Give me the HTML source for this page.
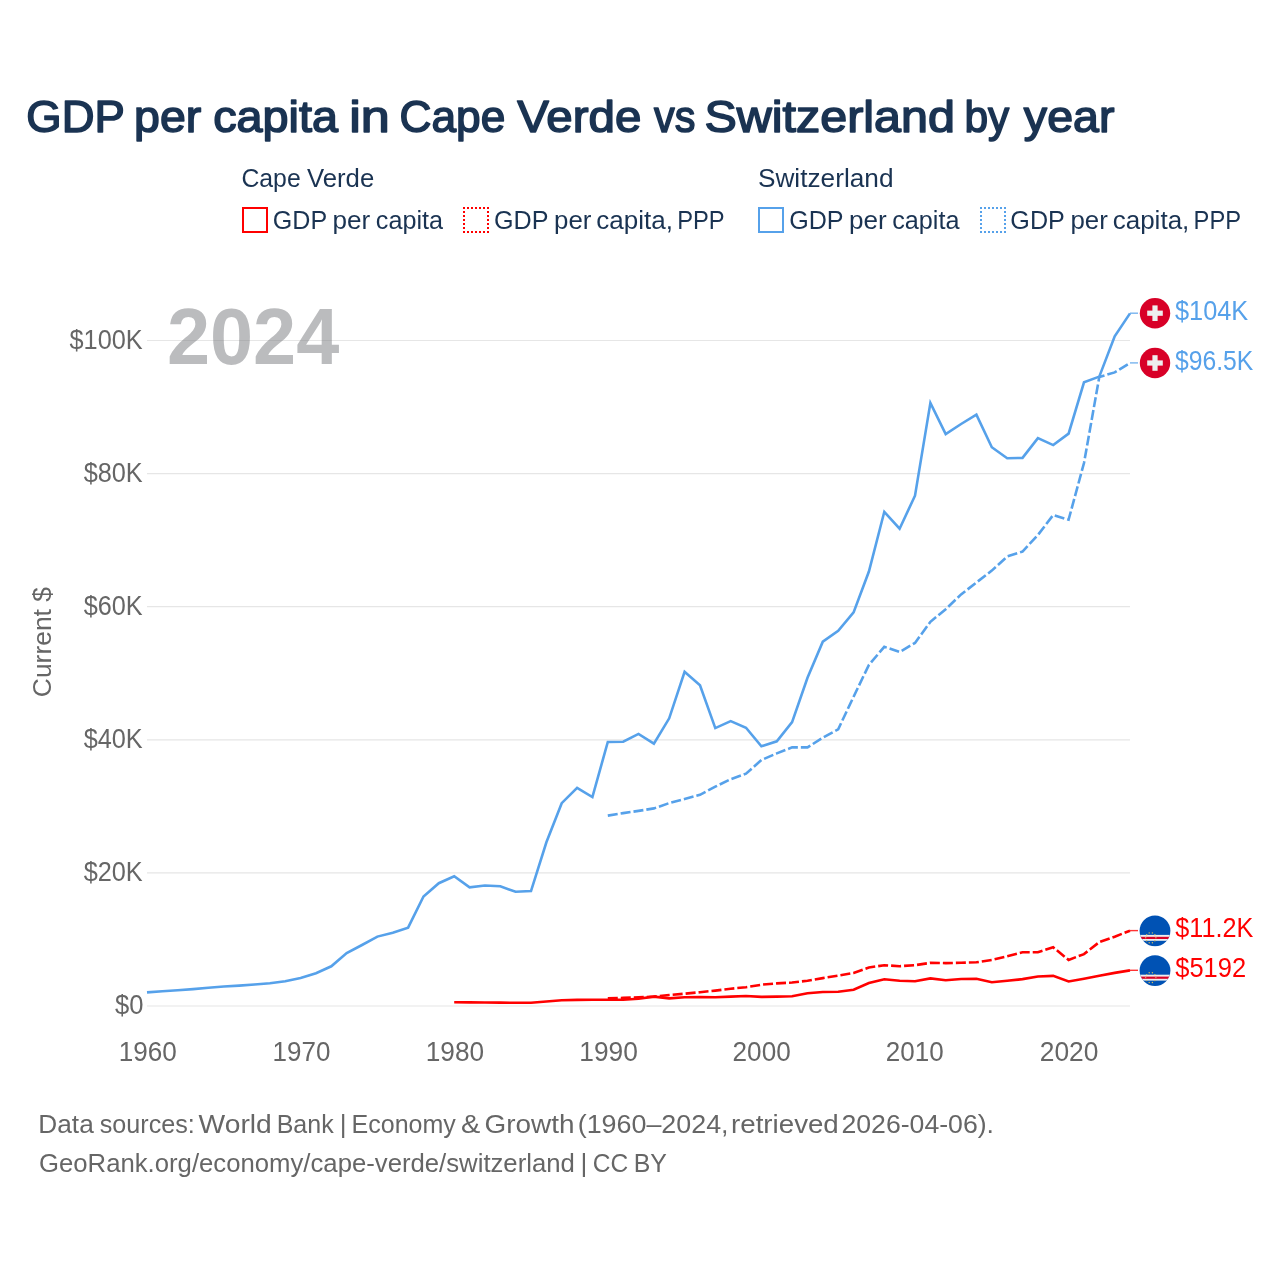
<!DOCTYPE html>
<html lang="en"><head><meta charset="utf-8"><title>GDP per capita in Cape Verde vs Switzerland by year</title>
<style>html,body{margin:0;padding:0;background:#fff;width:1280px;height:1280px;overflow:hidden}svg{display:block}</style>
</head><body>
<svg width="1280" height="1280" viewBox="0 0 1280 1280" font-family='"Liberation Sans", Arial, sans-serif'>
<rect width="1280" height="1280" fill="#ffffff"/>
<rect x="243" y="208" width="24" height="24" fill="none" stroke="#ff0000" stroke-width="2"/>
<path d="M463 207h2v2h-2zM463 231h2v2h-2zM467 207h2v2h-2zM467 231h2v2h-2zM471 207h2v2h-2zM471 231h2v2h-2zM475 207h2v2h-2zM475 231h2v2h-2zM479 207h2v2h-2zM479 231h2v2h-2zM483 207h2v2h-2zM483 231h2v2h-2zM487 207h2v2h-2zM487 231h2v2h-2zM463 211h2v2h-2zM487 211h2v2h-2zM463 215h2v2h-2zM487 215h2v2h-2zM463 219h2v2h-2zM487 219h2v2h-2zM463 223h2v2h-2zM487 223h2v2h-2zM463 227h2v2h-2zM487 227h2v2h-2z" fill="#ff0000"/>
<rect x="759" y="208" width="24" height="24" fill="none" stroke="#56a1ea" stroke-width="2"/>
<path d="M980 207h2v2h-2zM980 231h2v2h-2zM984 207h2v2h-2zM984 231h2v2h-2zM988 207h2v2h-2zM988 231h2v2h-2zM992 207h2v2h-2zM992 231h2v2h-2zM996 207h2v2h-2zM996 231h2v2h-2zM1000 207h2v2h-2zM1000 231h2v2h-2zM1004 207h2v2h-2zM1004 231h2v2h-2zM980 211h2v2h-2zM1004 211h2v2h-2zM980 215h2v2h-2zM1004 215h2v2h-2zM980 219h2v2h-2zM1004 219h2v2h-2zM980 223h2v2h-2zM1004 223h2v2h-2zM980 227h2v2h-2zM1004 227h2v2h-2z" fill="#56a1ea"/>
<line x1="147" y1="1006.0" x2="1130" y2="1006.0" stroke="#e6e6e6" stroke-width="1.2"/>
<line x1="147" y1="872.9" x2="1130" y2="872.9" stroke="#e6e6e6" stroke-width="1.2"/>
<line x1="147" y1="739.8" x2="1130" y2="739.8" stroke="#e6e6e6" stroke-width="1.2"/>
<line x1="147" y1="606.7" x2="1130" y2="606.7" stroke="#e6e6e6" stroke-width="1.2"/>
<line x1="147" y1="473.6" x2="1130" y2="473.6" stroke="#e6e6e6" stroke-width="1.2"/>
<line x1="147" y1="340.5" x2="1130" y2="340.5" stroke="#e6e6e6" stroke-width="1.2"/>
<g opacity="0.5"><text x="166.91" y="364.0" font-size="80.5" font-weight="bold" fill="#797b7f" textLength="172.40" lengthAdjust="spacingAndGlyphs">2024</text></g>
<text transform="translate(50.8,642.1) rotate(-90)" font-size="26.3" fill="#666666" text-anchor="middle" textLength="110.1" lengthAdjust="spacingAndGlyphs">Current $</text>
<polyline points="147.0,992.4 162.4,991.3 177.7,990.2 193.1,989.1 208.4,987.8 223.8,986.5 239.2,985.6 254.5,984.5 269.9,983.2 285.2,981.2 300.6,978.0 316.0,973.2 331.3,966.3 346.7,953.0 362.0,945.0 377.4,936.6 392.8,932.8 408.1,927.7 423.5,896.5 438.8,883.2 454.2,876.3 469.6,887.3 484.9,885.5 500.3,886.3 515.6,891.8 531.0,891.1 546.4,842.3 561.7,803.2 577.1,787.9 592.4,797.0 607.8,742.0 623.2,741.7 638.5,733.9 653.9,743.7 669.2,718.3 684.6,671.8 700.0,685.2 715.3,728.1 730.7,721.1 746.0,727.7 761.4,746.3 776.8,741.3 792.1,722.1 807.5,677.8 822.8,641.7 838.2,630.8 853.6,612.4 868.9,571.5 884.3,511.8 899.6,528.7 915.0,495.7 930.4,402.9 945.7,434.0 961.1,424.0 976.4,414.7 991.8,447.2 1007.2,458.2 1022.5,457.9 1037.9,438.1 1053.2,445.1 1068.6,433.6 1084.0,382.3 1099.3,376.6 1114.7,336.3 1130.0,313.4" fill="none" stroke="#56a1ea" stroke-width="2.6" stroke-linejoin="miter"/>
<polyline points="607.8,815.6 623.2,813.1 638.5,810.9 653.9,808.4 669.2,803.1 684.6,799.1 700.0,794.8 715.3,786.7 730.7,779.2 746.0,773.7 761.4,760.0 776.8,753.4 792.1,747.4 807.5,747.4 822.8,737.6 838.2,729.3 853.6,696.7 868.9,664.9 884.3,646.8 899.6,652.0 915.0,642.9 930.4,621.8 945.7,609.2 961.1,594.4 976.4,582.5 991.8,570.6 1007.2,556.5 1022.5,551.6 1037.9,535.0 1053.2,515.0 1068.6,519.7 1084.0,463.0 1099.3,377.0 1114.7,372.4 1130.0,363.0" fill="none" stroke="#56a1ea" stroke-width="2.6" stroke-dasharray="10,3" stroke-linejoin="miter"/>
<polyline points="454.2,1002.3 469.6,1002.4 484.9,1002.5 500.3,1002.6 515.6,1002.8 531.0,1002.8 546.4,1001.5 561.7,1000.2 577.1,999.9 592.4,999.8 607.8,999.7 623.2,999.7 638.5,998.8 653.9,996.6 669.2,998.4 684.6,997.2 700.0,997.0 715.3,997.2 730.7,996.6 746.0,996.0 761.4,996.9 776.8,996.6 792.1,996.2 807.5,993.3 822.8,992.0 838.2,991.7 853.6,989.8 868.9,983.1 884.3,979.2 899.6,980.8 915.0,981.2 930.4,978.4 945.7,980.3 961.1,979.0 976.4,978.8 991.8,982.3 1007.2,980.8 1022.5,979.1 1037.9,976.5 1053.2,975.9 1068.6,981.5 1084.0,978.7 1099.3,975.8 1114.7,972.9 1130.0,970.4" fill="none" stroke="#ff0000" stroke-width="2.6" stroke-linejoin="miter"/>
<polyline points="607.8,998.4 623.2,997.9 638.5,997.3 653.9,996.6 669.2,995.0 684.6,993.7 700.0,992.2 715.3,990.6 730.7,988.7 746.0,987.2 761.4,984.7 776.8,983.4 792.1,982.5 807.5,980.8 822.8,978.1 838.2,975.6 853.6,973.0 868.9,967.5 884.3,965.2 899.6,966.2 915.0,965.2 930.4,962.8 945.7,963.1 961.1,962.8 976.4,962.3 991.8,959.9 1007.2,956.2 1022.5,952.2 1037.9,952.2 1053.2,947.3 1068.6,959.9 1084.0,954.1 1099.3,942.1 1114.7,936.7 1130.0,930.7" fill="none" stroke="#ff0000" stroke-width="2.6" stroke-dasharray="10,3" stroke-linejoin="miter"/>
<line x1="1130" y1="313.2" x2="1138" y2="313.2" stroke="#56a1ea" stroke-width="1.4" stroke-opacity="0.8"/>
<line x1="1130" y1="362.9" x2="1138" y2="362.9" stroke="#56a1ea" stroke-width="1.4" stroke-opacity="0.8"/>
<line x1="1130" y1="930.6" x2="1138" y2="930.6" stroke="#ff0000" stroke-width="1.4" stroke-opacity="0.8"/>
<line x1="1130" y1="970.3" x2="1138" y2="970.3" stroke="#ff0000" stroke-width="1.4" stroke-opacity="0.8"/>
<circle cx="1155" cy="313.2" r="15.2" fill="#d80027"/><rect x="1147.2" y="310.6" width="15.6" height="5.2" fill="#eeeeee"/><rect x="1152.4" y="305.4" width="5.2" height="15.6" fill="#eeeeee"/>
<circle cx="1155" cy="363.0" r="15.2" fill="#d80027"/><rect x="1147.2" y="360.4" width="15.6" height="5.2" fill="#eeeeee"/><rect x="1152.4" y="355.2" width="5.2" height="15.6" fill="#eeeeee"/>
<clipPath id="cp930"><circle cx="1155" cy="930.8" r="15.4"/></clipPath><g clip-path="url(#cp930)"><rect x="1139" y="914.8" width="32" height="32" fill="#0052b4"/><rect x="1139" y="934.9" width="32" height="5.9" fill="#eeeeee"/><rect x="1139" y="936.8" width="32" height="2.2" fill="#d80027"/></g><circle cx="1155.9" cy="937.8" r="0.7" fill="#d4b85a"/><circle cx="1154.9" cy="940.8" r="0.7" fill="#d4b85a"/><circle cx="1152.4" cy="942.7" r="0.7" fill="#d4b85a"/><circle cx="1149.2" cy="942.7" r="0.7" fill="#d4b85a"/><circle cx="1146.7" cy="940.8" r="0.7" fill="#d4b85a"/><circle cx="1145.7" cy="937.8" r="0.7" fill="#d4b85a"/><circle cx="1146.7" cy="934.8" r="0.7" fill="#d4b85a"/><circle cx="1149.2" cy="932.9" r="0.7" fill="#d4b85a"/><circle cx="1152.4" cy="932.9" r="0.7" fill="#d4b85a"/><circle cx="1154.9" cy="934.8" r="0.7" fill="#d4b85a"/>
<clipPath id="cp970"><circle cx="1155" cy="970.6" r="15.4"/></clipPath><g clip-path="url(#cp970)"><rect x="1139" y="954.6" width="32" height="32" fill="#0052b4"/><rect x="1139" y="974.7" width="32" height="5.9" fill="#eeeeee"/><rect x="1139" y="976.6" width="32" height="2.2" fill="#d80027"/></g><circle cx="1155.9" cy="977.6" r="0.7" fill="#d4b85a"/><circle cx="1154.9" cy="980.6" r="0.7" fill="#d4b85a"/><circle cx="1152.4" cy="982.5" r="0.7" fill="#d4b85a"/><circle cx="1149.2" cy="982.5" r="0.7" fill="#d4b85a"/><circle cx="1146.7" cy="980.6" r="0.7" fill="#d4b85a"/><circle cx="1145.7" cy="977.6" r="0.7" fill="#d4b85a"/><circle cx="1146.7" cy="974.6" r="0.7" fill="#d4b85a"/><circle cx="1149.2" cy="972.7" r="0.7" fill="#d4b85a"/><circle cx="1152.4" cy="972.7" r="0.7" fill="#d4b85a"/><circle cx="1154.9" cy="974.6" r="0.7" fill="#d4b85a"/>
<text x="26.32" y="132.1" font-size="45.2" font-weight="normal" fill="#1a3352" textLength="98.38" lengthAdjust="spacingAndGlyphs" stroke="#1a3352" stroke-width="1.6" stroke-linejoin="round">GDP</text>
<text x="134.10" y="132.1" font-size="45.2" font-weight="normal" fill="#1a3352" textLength="67.17" lengthAdjust="spacingAndGlyphs" stroke="#1a3352" stroke-width="1.6" stroke-linejoin="round">per</text>
<text x="213.21" y="132.1" font-size="45.2" font-weight="normal" fill="#1a3352" textLength="124.79" lengthAdjust="spacingAndGlyphs" stroke="#1a3352" stroke-width="1.6" stroke-linejoin="round">capita</text>
<text x="349.21" y="132.1" font-size="45.2" font-weight="normal" fill="#1a3352" textLength="40.57" lengthAdjust="spacingAndGlyphs" stroke="#1a3352" stroke-width="1.6" stroke-linejoin="round">in</text>
<text x="399.45" y="132.1" font-size="45.2" font-weight="normal" fill="#1a3352" textLength="105.82" lengthAdjust="spacingAndGlyphs" stroke="#1a3352" stroke-width="1.6" stroke-linejoin="round">Cape</text>
<text x="517.19" y="132.1" font-size="45.2" font-weight="normal" fill="#1a3352" textLength="124.12" lengthAdjust="spacingAndGlyphs" stroke="#1a3352" stroke-width="1.6" stroke-linejoin="round">Verde</text>
<text x="654.06" y="132.1" font-size="45.2" font-weight="normal" fill="#1a3352" textLength="41.34" lengthAdjust="spacingAndGlyphs" stroke="#1a3352" stroke-width="1.6" stroke-linejoin="round">vs</text>
<text x="704.50" y="132.1" font-size="45.2" font-weight="normal" fill="#1a3352" textLength="250.42" lengthAdjust="spacingAndGlyphs" stroke="#1a3352" stroke-width="1.6" stroke-linejoin="round">Switzerland</text>
<text x="964.46" y="132.1" font-size="45.2" font-weight="normal" fill="#1a3352" textLength="44.82" lengthAdjust="spacingAndGlyphs" stroke="#1a3352" stroke-width="1.6" stroke-linejoin="round">by</text>
<text x="1023.89" y="132.1" font-size="45.2" font-weight="normal" fill="#1a3352" textLength="90.59" lengthAdjust="spacingAndGlyphs" stroke="#1a3352" stroke-width="1.6" stroke-linejoin="round">year</text>
<text x="241.44" y="186.5" font-size="26.3" font-weight="normal" fill="#1a3352" textLength="59.26" lengthAdjust="spacingAndGlyphs">Cape</text>
<text x="306.99" y="186.5" font-size="26.3" font-weight="normal" fill="#1a3352" textLength="67.26" lengthAdjust="spacingAndGlyphs">Verde</text>
<text x="757.91" y="186.5" font-size="26.3" font-weight="normal" fill="#1a3352" textLength="135.58" lengthAdjust="spacingAndGlyphs">Switzerland</text>
<text x="272.84" y="228.8" font-size="26.3" font-weight="normal" fill="#1a3352" textLength="54.39" lengthAdjust="spacingAndGlyphs">GDP</text>
<text x="332.52" y="228.8" font-size="26.3" font-weight="normal" fill="#1a3352" textLength="37.71" lengthAdjust="spacingAndGlyphs">per</text>
<text x="375.83" y="228.8" font-size="26.3" font-weight="normal" fill="#1a3352" textLength="67.27" lengthAdjust="spacingAndGlyphs">capita</text>
<text x="493.94" y="228.8" font-size="26.3" font-weight="normal" fill="#1a3352" textLength="54.49" lengthAdjust="spacingAndGlyphs">GDP</text>
<text x="554.03" y="228.8" font-size="26.3" font-weight="normal" fill="#1a3352" textLength="37.40" lengthAdjust="spacingAndGlyphs">per</text>
<text x="596.29" y="228.8" font-size="26.3" font-weight="normal" fill="#1a3352" textLength="76.64" lengthAdjust="spacingAndGlyphs">capita,</text>
<text x="677.15" y="228.8" font-size="26.3" font-weight="normal" fill="#1a3352" textLength="47.50" lengthAdjust="spacingAndGlyphs">PPP</text>
<text x="789.24" y="228.8" font-size="26.3" font-weight="normal" fill="#1a3352" textLength="54.39" lengthAdjust="spacingAndGlyphs">GDP</text>
<text x="848.92" y="228.8" font-size="26.3" font-weight="normal" fill="#1a3352" textLength="37.71" lengthAdjust="spacingAndGlyphs">per</text>
<text x="892.23" y="228.8" font-size="26.3" font-weight="normal" fill="#1a3352" textLength="67.27" lengthAdjust="spacingAndGlyphs">capita</text>
<text x="1010.34" y="228.8" font-size="26.3" font-weight="normal" fill="#1a3352" textLength="54.49" lengthAdjust="spacingAndGlyphs">GDP</text>
<text x="1070.43" y="228.8" font-size="26.3" font-weight="normal" fill="#1a3352" textLength="37.40" lengthAdjust="spacingAndGlyphs">per</text>
<text x="1112.69" y="228.8" font-size="26.3" font-weight="normal" fill="#1a3352" textLength="76.64" lengthAdjust="spacingAndGlyphs">capita,</text>
<text x="1193.55" y="228.8" font-size="26.3" font-weight="normal" fill="#1a3352" textLength="47.50" lengthAdjust="spacingAndGlyphs">PPP</text>
<text x="38.35" y="1133.0" font-size="26.3" font-weight="normal" fill="#666666" textLength="55.40" lengthAdjust="spacingAndGlyphs">Data</text>
<text x="99.80" y="1133.0" font-size="26.3" font-weight="normal" fill="#666666" textLength="94.99" lengthAdjust="spacingAndGlyphs">sources:</text>
<text x="198.63" y="1133.0" font-size="26.3" font-weight="normal" fill="#666666" textLength="73.19" lengthAdjust="spacingAndGlyphs">World</text>
<text x="276.70" y="1133.0" font-size="26.3" font-weight="normal" fill="#666666" textLength="57.02" lengthAdjust="spacingAndGlyphs">Bank</text>
<text x="343.10" y="1133.0" font-size="26.3" font-weight="normal" fill="#666666" text-anchor="middle">|</text>
<text x="351.55" y="1133.0" font-size="26.3" font-weight="normal" fill="#666666" textLength="104.30" lengthAdjust="spacingAndGlyphs">Economy</text>
<text x="460.98" y="1133.0" font-size="26.3" font-weight="normal" fill="#666666" textLength="19.27" lengthAdjust="spacingAndGlyphs">&amp;</text>
<text x="484.50" y="1133.0" font-size="26.3" font-weight="normal" fill="#666666" textLength="90.02" lengthAdjust="spacingAndGlyphs">Growth</text>
<text x="577.73" y="1133.0" font-size="26.3" font-weight="normal" fill="#666666" textLength="150.88" lengthAdjust="spacingAndGlyphs">(1960–2024,</text>
<text x="731.06" y="1133.0" font-size="26.3" font-weight="normal" fill="#666666" textLength="107.72" lengthAdjust="spacingAndGlyphs">retrieved</text>
<text x="841.46" y="1133.0" font-size="26.3" font-weight="normal" fill="#666666" textLength="152.57" lengthAdjust="spacingAndGlyphs">2026-04-06).</text>
<text x="39.01" y="1171.5" font-size="26.3" font-weight="normal" fill="#666666" textLength="535.85" lengthAdjust="spacingAndGlyphs">GeoRank.org/economy/cape-verde/switzerland</text>
<text x="583.95" y="1171.5" font-size="26.3" font-weight="normal" fill="#666666" text-anchor="middle">|</text>
<text x="592.65" y="1171.5" font-size="26.3" font-weight="normal" fill="#666666" textLength="35.48" lengthAdjust="spacingAndGlyphs">CC</text>
<text x="633.66" y="1171.5" font-size="26.3" font-weight="normal" fill="#666666" textLength="33.19" lengthAdjust="spacingAndGlyphs">BY</text>
<text x="1175.03" y="319.8" font-size="27" font-weight="normal" fill="#56a1ea" textLength="73.26" lengthAdjust="spacingAndGlyphs">$104K</text>
<text x="1175.03" y="369.8" font-size="27" font-weight="normal" fill="#56a1ea" textLength="78.34" lengthAdjust="spacingAndGlyphs">$96.5K</text>
<text x="1175.33" y="937.0" font-size="27" font-weight="normal" fill="#ff0000" textLength="78.05" lengthAdjust="spacingAndGlyphs">$11.2K</text>
<text x="1175.23" y="976.9" font-size="27" font-weight="normal" fill="#ff0000" textLength="70.85" lengthAdjust="spacingAndGlyphs">$5192</text>
<text x="114.93" y="1014.3" font-size="27" font-weight="normal" fill="#666666" textLength="28.47" lengthAdjust="spacingAndGlyphs">$0</text>
<text x="83.63" y="881.2" font-size="27" font-weight="normal" fill="#666666" textLength="59.06" lengthAdjust="spacingAndGlyphs">$20K</text>
<text x="83.63" y="748.1" font-size="27" font-weight="normal" fill="#666666" textLength="59.06" lengthAdjust="spacingAndGlyphs">$40K</text>
<text x="83.73" y="615.0" font-size="27" font-weight="normal" fill="#666666" textLength="58.95" lengthAdjust="spacingAndGlyphs">$60K</text>
<text x="83.63" y="481.9" font-size="27" font-weight="normal" fill="#666666" textLength="59.06" lengthAdjust="spacingAndGlyphs">$80K</text>
<text x="69.53" y="348.8" font-size="27" font-weight="normal" fill="#666666" textLength="73.16" lengthAdjust="spacingAndGlyphs">$100K</text>
<text x="118.71" y="1061.3" font-size="27" font-weight="normal" fill="#666666" textLength="58.11" lengthAdjust="spacingAndGlyphs">1960</text>
<text x="272.62" y="1061.3" font-size="27" font-weight="normal" fill="#666666" textLength="57.79" lengthAdjust="spacingAndGlyphs">1970</text>
<text x="425.80" y="1061.3" font-size="27" font-weight="normal" fill="#666666" textLength="58.32" lengthAdjust="spacingAndGlyphs">1980</text>
<text x="579.30" y="1061.3" font-size="27" font-weight="normal" fill="#666666" textLength="58.53" lengthAdjust="spacingAndGlyphs">1990</text>
<text x="732.59" y="1061.3" font-size="27" font-weight="normal" fill="#666666" textLength="58.13" lengthAdjust="spacingAndGlyphs">2000</text>
<text x="885.79" y="1061.3" font-size="27" font-weight="normal" fill="#666666" textLength="57.82" lengthAdjust="spacingAndGlyphs">2010</text>
<text x="1039.77" y="1061.3" font-size="27" font-weight="normal" fill="#666666" textLength="58.66" lengthAdjust="spacingAndGlyphs">2020</text>
</svg>
</body></html>
